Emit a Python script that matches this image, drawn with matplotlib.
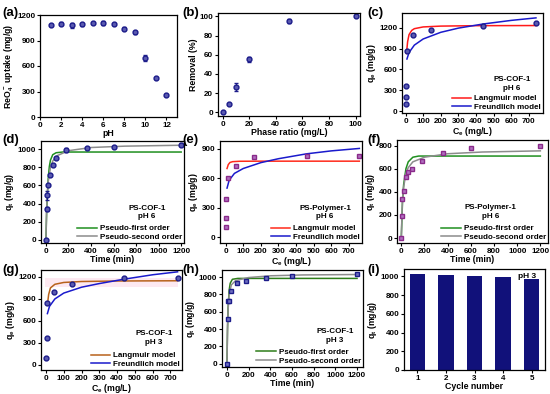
import numpy as np
import matplotlib
matplotlib.use("Agg")
import matplotlib.pyplot as plt

plt.rcParams['font.family'] = ['Liberation Sans', 'DejaVu Sans']
plt.rcParams['font.weight'] = 'bold'
plt.rcParams['axes.labelweight'] = 'bold'
plt.rcParams['mathtext.fontset'] = 'custom'
plt.rcParams['mathtext.rm'] = 'Liberation Sans:bold'
plt.rcParams['mathtext.it'] = 'Liberation Sans:bold:italic'
plt.rcParams['mathtext.bf'] = 'Liberation Sans:bold'
plt.rcParams['mathtext.default'] = 'bf'

NAVY = '#1c1c8a'
PURPLE = '#8a2a8a'

# (a) pH effect
ph = [1, 2, 3, 4, 5, 6, 7, 8, 9, 10, 11, 12]
ph_uptake = [1080, 1100, 1080, 1090, 1105, 1105, 1095, 1040, 995, 690, 455, 255]
ph_err = [10, 20, 30, 15, 15, 20, 15, 20, 15, 35, 10, 10]

# (b) phase ratio
ratio = [0, 5, 10, 20, 50, 100]
removal = [0, 9, 26, 55, 95, 100]
removal_err = [0.5, 1, 4, 3, 2, 1]

# (c) isotherm PS-COF-1 pH 6
c_ce = [2, 2, 3, 8, 45, 145, 440, 740]
c_qe = [100, 200, 360, 870, 1100, 1160, 1220, 1260]
c_lang_x = [5, 8, 12, 20, 35, 50, 100, 200, 400, 740]
c_lang_y = [830, 900, 1000, 1100, 1160, 1185, 1210, 1222, 1228, 1230]
c_freu_x = [8, 20, 50, 100, 200, 300, 440, 600, 740]
c_freu_y = [750, 843, 949, 1037, 1133, 1193, 1252, 1304, 1340]

# (d) kinetics PS-COF-1 pH 6
d_t = [0, 5, 10, 20, 40, 60, 90, 180, 360, 600, 1200]
d_q = [0, 340, 490, 610, 720, 830, 900, 990, 1020, 1030, 1050]
d_err = [5, 25, 50, 10, 10, 10, 10, 20, 10, 10, 15]
d_pfo_x = [0, 5, 10, 20, 30, 40, 60, 90, 150, 1200]
d_pfo_y = [0, 250, 440, 680, 810, 880, 940, 962, 970, 970]
d_pso_x = [0, 5, 10, 20, 40, 60, 100, 200, 400, 700, 1200]
d_pso_y = [0, 300, 460, 640, 800, 870, 930, 985, 1020, 1035, 1045]

# (e) isotherm PS-Polymer-1 pH 6
e_ce = [2, 2, 3, 15, 60, 160, 460, 760]
e_qe = [100, 190, 385, 600, 725, 815, 825, 830]
e_lang_x = [8, 15, 25, 40, 80, 200, 760]
e_lang_y = [700, 740, 762, 770, 774, 775, 775]
e_freu_x = [8, 20, 50, 100, 200, 300, 460, 600, 760]
e_freu_y = [500, 580, 650, 700, 760, 800, 850, 880, 905]

# (f) kinetics PS-Polymer-1 pH 6
f_t = [0, 5, 10, 20, 40, 60, 90, 180, 360, 600, 1200]
f_q = [0, 190, 340, 410, 530, 570, 600, 665, 735, 780, 795]
f_pfo_x = [0, 10, 20, 40, 60, 100, 150, 1200]
f_pfo_y = [0, 300, 460, 600, 660, 700, 710, 710]
f_pso_x = [0, 10, 20, 40, 60, 100, 200, 400, 700, 1200]
f_pso_y = [0, 330, 440, 560, 610, 660, 700, 730, 745, 755]

# (g) isotherm PS-COF-1 pH 3
g_ce = [2, 3, 8, 45, 145, 440, 740]
g_qe = [100, 360, 840, 1000, 1100, 1180, 1180]
g_lang_x = [8, 15, 25, 50, 100, 200, 400, 740]
g_lang_y = [820, 960, 1050, 1100, 1125, 1138, 1145, 1148]
g_freu_x = [8, 20, 50, 100, 200, 300, 440, 600, 740]
g_freu_y = [700, 800, 900, 980, 1060, 1110, 1170, 1230, 1270]

# (h) kinetics PS-COF-1 pH 3
h_t = [0, 5, 10, 20, 40, 90, 180, 360, 600, 1200]
h_q = [0, 520, 720, 730, 840, 930, 960, 990, 1010, 1040]
h_pfo_x = [0, 5, 10, 20, 30, 50, 100, 1200]
h_pfo_y = [0, 400, 640, 850, 930, 975, 985, 985]
h_pso_x = [0, 5, 10, 20, 40, 80, 200, 400, 700, 1200]
h_pso_y = [0, 420, 620, 800, 910, 960, 995, 1015, 1025, 1030]

# (i) recycling
cycles = [1, 2, 3, 4, 5]
cycle_q = [1030, 1020, 1005, 995, 970]

W, H = 550, 394
fig = plt.figure(figsize=(5.5, 3.94), dpi=100)


def make_ax(x0, x1, y0, y1):
    ax = fig.add_axes([x0 / W, 1 - y1 / H, (x1 - x0) / W, (y1 - y0) / H])
    for s in ax.spines.values():
        s.set_linewidth(0.9)
    ax.tick_params(labelsize=5.8, length=2.5, width=0.8, pad=1)
    return ax


def labels(ax, xl, yl):
    ax.set_xlabel(xl, fontsize=6.3, labelpad=0)
    ax.set_ylabel(yl, fontsize=6.3, labelpad=1)


def legend_block(ax, title, tx=0.76, ty=0.30):
    ax.legend(loc='lower right', bbox_to_anchor=(1.02, -0.03), frameon=False,
              fontsize=5.8, handlelength=2.4, labelspacing=0.15,
              handletextpad=0.4, borderaxespad=0.2)
    ax.text(tx, ty, title, transform=ax.transAxes, ha='center', va='center',
            fontsize=5.8, fontweight='bold', linespacing=1.3)


def panel(x, y, s):
    fig.text(x / W, 1 - y / H, s, fontsize=9.5, fontweight='bold', va='center')


# (a)
ax = make_ax(40, 177, 15, 117)
ax.errorbar(ph, ph_uptake, yerr=ph_err, fmt='o', color=NAVY, ms=3.5,
            capsize=1.5, elinewidth=0.8, mfc='#5a5ab0')
ax.set_xlim(0, 13)
ax.set_ylim(0, 1200)
ax.set_xticks(range(0, 13, 2))
ax.set_yticks(range(0, 1201, 300))
labels(ax, 'pH', 'ReO$_4^-$ uptake (mg/g)')

# (b)
ax = make_ax(218, 360, 13, 116)
ax.errorbar(ratio, removal, yerr=removal_err, fmt='o', color=NAVY, ms=3.5,
            capsize=1.5, elinewidth=0.8, mfc='#5a5ab0')
ax.set_xlim(-3.5, 103.3)
ax.set_ylim(-4, 103.5)
ax.set_xticks(range(0, 101, 20))
ax.set_yticks(range(0, 101, 20))
labels(ax, 'Phase ratio (mg/L)', 'Removal (%)')

# (c)
ax = make_ax(402, 543, 13, 113)
ax.plot(c_lang_x, c_lang_y, color='#ff1a1a', lw=1.1, label='Langmuir model')
ax.plot(c_freu_x, c_freu_y, color='#1a1acc', lw=1.1, label='Freundlich model')
ax.plot(c_ce, c_qe, 'o', color=NAVY, ms=3.5, mfc='#5a5ab0')
ax.set_xlim(-20, 780)
ax.set_ylim(-25, 1410)
ax.set_xticks(range(0, 701, 100))
ax.set_yticks(range(0, 1201, 300))
labels(ax, 'C$_e$ (mg/L)', 'q$_e$ (mg/g)')
legend_block(ax, 'PS-COF-1\npH 6', 0.78, 0.29)

# (d)
ax = make_ax(41, 184, 141, 243)
ax.plot(d_pfo_x, d_pfo_y, color='#1f8f1f', lw=1.1, label='Pseudo-first order')
ax.plot(d_pso_x, d_pso_y, color='#8c8c8c', lw=1.1, label='Pseudo-second order')
ax.errorbar(d_t, d_q, yerr=d_err, fmt='o', color=NAVY, ms=3.5,
            capsize=1.5, elinewidth=0.8, mfc='#5a5ab0')
ax.set_xlim(-44, 1225)
ax.set_ylim(-37, 1092)
ax.set_xticks(range(0, 1201, 200))
ax.set_yticks(range(0, 1001, 200))
labels(ax, 'Time (min)', 'q$_t$ (mg/g)')
legend_block(ax, 'PS-COF-1\npH 6', 0.74, 0.30)

# (e)
ax = make_ax(220, 362, 141, 243)
ax.plot(e_lang_x, e_lang_y, color='#ff2a1a', lw=1.1, label='Langmuir model')
ax.plot(e_freu_x, e_freu_y, color='#1a1acc', lw=1.1, label='Freundlich model')
ax.plot(e_ce, e_qe, 's', color=PURPLE, ms=3.5, mfc='#b070c0')
ax.set_xlim(-32, 775)
ax.set_ylim(-61, 981)
ax.set_xticks(range(0, 701, 100))
ax.set_yticks(range(0, 901, 300))
labels(ax, 'C$_e$ (mg/L)', 'q$_e$ (mg/g)')
legend_block(ax, 'PS-Polymer-1\npH 6', 0.74, 0.30)

# (f)
ax = make_ax(397, 548, 140, 243)
ax.plot(f_pfo_x, f_pfo_y, color='#1f8f1f', lw=1.1, label='Pseudo-first order')
ax.plot(f_pso_x, f_pso_y, color='#8c8c8c', lw=1.1, label='Pseudo-second order')
ax.plot(f_t, f_q, 's', color=PURPLE, ms=3.5, mfc='#b070c0')
ax.set_xlim(-37, 1266)
ax.set_ylim(-43, 849)
ax.set_xticks(range(0, 1201, 200))
ax.set_yticks(range(0, 801, 200))
labels(ax, 'Time (min)', 'q$_t$ (mg/g)')
legend_block(ax, 'PS-Polymer-1\npH 6', 0.62, 0.30)

# (g)
ax = make_ax(41, 182, 270, 370)
ax.axhspan(1060, 1180, xmin=0.03, xmax=0.97, color='#fde9f1', lw=0)
ax.plot(g_lang_x, g_lang_y, color='#b8621b', lw=1.1, label='Langmuir model')
ax.plot(g_freu_x, g_freu_y, color='#1a1acc', lw=1.1, label='Freundlich model')
ax.plot(g_ce, g_qe, 'o', color=NAVY, ms=3.5, mfc='#5a5ab0')
ax.set_xlim(-28, 765)
ax.set_ylim(-70, 1295)
ax.set_xticks(range(0, 701, 100))
ax.set_yticks(range(0, 1201, 300))
labels(ax, 'C$_e$ (mg/L)', 'q$_e$ (mg/g)')
legend_block(ax, 'PS-COF-1\npH 3', 0.80, 0.32)

# (h)
ax = make_ax(222, 363, 270, 367)
ax.plot(h_pfo_x, h_pfo_y, color='#2e7d1a', lw=1.1, label='Pseudo-first order')
ax.plot(h_pso_x, h_pso_y, color='#8c8c8c', lw=1.1, label='Pseudo-second order')
ax.plot(h_t, h_q, 's', color=NAVY, ms=3.5, mfc='#7070c0')
ax.set_xlim(-46, 1255)
ax.set_ylim(-37, 1082)
ax.set_xticks(range(0, 1201, 200))
ax.set_yticks(range(0, 1001, 200))
labels(ax, 'Time (min)', 'q$_t$ (mg/g)')
legend_block(ax, 'PS-COF-1\npH 3', 0.80, 0.32)

# (i)
ax = make_ax(404, 545, 269, 370)
ax.bar(cycles, cycle_q, width=0.55, color='#11117a')
ax.set_xlim(0.53, 5.47)
ax.set_ylim(0, 1080)
ax.set_xticks(cycles)
ax.set_yticks(range(0, 1001, 200))
labels(ax, 'Cycle number', 'q$_t$ (mg/g)')
ax.text(0.87, 0.93, 'pH 3', transform=ax.transAxes, ha='center', va='center',
        fontsize=6, fontweight='bold')

for x, y, s in [(2, 13, '(a)'), (182, 13, '(b)'), (367, 13, '(c)'),
                (2, 140, '(d)'), (182, 140, '(e)'), (367, 140, '(f)'),
                (2, 270, '(g)'), (182, 270, '(h)'), (367, 270, '(i)')]:
    panel(x, y, s)

fig.savefig('out.png', dpi=100)
